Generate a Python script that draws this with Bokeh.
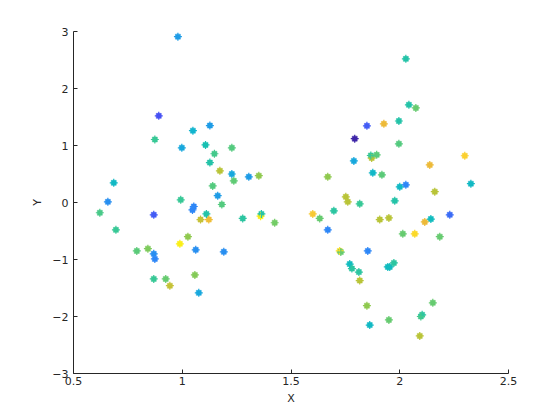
import numpy as np
from bokeh.plotting import figure
from bokeh.models import ColumnDataSource, LinearColorMapper, FixedTicker
from bokeh.embed import file_html
from bokeh.resources import INLINE

# ---- data ----
x_left = [0.98, 0.892, 1.049, 1.127, 0.874, 0.998, 1.107, 1.228, 1.148, 1.127,
          1.173, 1.228, 1.306, 1.352, 1.237, 0.685, 1.14, 1.163, 0.993, 0.658,
          1.182, 1.053, 1.047, 0.621, 0.869, 1.111, 1.36, 1.364, 1.278, 1.084,
          1.122, 0.695, 1.425, 1.026, 0.989, 0.791, 0.842, 1.062, 1.191, 0.869,
          0.874, 0.869, 0.924, 1.058, 0.943, 1.076]
y_left = [2.91, 1.52, 1.26, 1.35, 1.105, 0.96, 1.01, 0.96, 0.855, 0.70,
          0.556, 0.50, 0.45, 0.47, 0.38, 0.345, 0.29, 0.12, 0.047, 0.012,
          -0.035, -0.07, -0.13, -0.18, -0.216, -0.20, -0.24, -0.20, -0.28, -0.30,
          -0.30, -0.48, -0.355, -0.60, -0.725, -0.85, -0.81, -0.83, -0.865, -0.90,
          -0.99, -1.34, -1.34, -1.27, -1.46, -1.585]
c_left = [0.25, 0.10, 0.33, 0.25, 0.50, 0.28, 0.42, 0.55, 0.52, 0.45,
          0.72, 0.28, 0.25, 0.65, 0.57, 0.36, 0.55, 0.25, 0.50, 0.22,
          0.55, 0.20, 0.20, 0.53, 0.12, 0.45, 0.97, 0.45, 0.47, 0.74,
          0.82, 0.50, 0.60, 0.65, 0.97, 0.56, 0.62, 0.22, 0.22, 0.22,
          0.20, 0.50, 0.58, 0.63, 0.74, 0.28]

x_right = [2.028, 2.042, 2.074, 1.996, 1.849, 1.927, 1.793, 1.996, 1.871, 1.867,
           1.894, 1.789, 2.299, 2.138, 1.876, 1.918, 1.669, 2.327, 2.0, 2.028,
           2.161, 1.752, 1.761, 1.816, 1.977, 1.600, 1.697, 1.632, 2.230, 1.908,
           1.95, 2.115, 2.143, 1.669, 2.014, 2.069, 2.184, 1.724, 1.729, 1.853,
           1.770, 1.78, 1.812, 1.816, 1.945, 1.954, 1.973, 1.849, 2.152, 2.103,
           2.097, 1.95, 1.862, 2.092]
y_right = [2.52, 1.714, 1.66, 1.43, 1.345, 1.38, 1.12, 1.03, 0.78, 0.825,
           0.836, 0.73, 0.82, 0.66, 0.52, 0.486, 0.45, 0.33, 0.275, 0.31,
           0.19, 0.10, 0.012, -0.023, 0.03, -0.20, -0.146, -0.28, -0.216, -0.30,
           -0.27, -0.34, -0.29, -0.48, -0.55, -0.55, -0.60, -0.85, -0.87, -0.85,
           -1.08, -1.16, -1.22, -1.37, -1.13, -1.13, -1.06, -1.81, -1.76, -1.97,
           -2.0, -2.06, -2.15, -2.34]
c_right = [0.45, 0.45, 0.58, 0.45, 0.12, 0.80, 0.00, 0.55, 0.72, 0.50,
           0.56, 0.28, 0.90, 0.80, 0.35, 0.56, 0.65, 0.36, 0.36, 0.20,
           0.72, 0.72, 0.72, 0.50, 0.45, 0.87, 0.47, 0.58, 0.15, 0.72,
           0.72, 0.80, 0.38, 0.20, 0.58, 0.92, 0.58, 0.93, 0.58, 0.20,
           0.38, 0.47, 0.47, 0.72, 0.38, 0.38, 0.47, 0.65, 0.58, 0.47,
           0.52, 0.58, 0.36, 0.72]

x_ticks = [0.5, 1, 1.5, 2, 2.5]
y_ticks = [-3, -2, -1, 0, 1, 2, 3]

# ---- parula-like palette ----
anchors_t = [0.0, 0.1, 0.2, 0.3, 0.4, 0.5, 0.6, 0.7, 0.8, 0.9, 1.0]
anchors_rgb = [(0.2422, 0.1504, 0.6603), (0.2810, 0.3228, 0.9579),
               (0.1786, 0.5289, 0.9682), (0.0689, 0.6948, 0.8394),
               (0.0704, 0.7457, 0.7258), (0.2161, 0.7843, 0.5923),
               (0.4500, 0.8000, 0.4000), (0.6700, 0.7800, 0.2200),
               (0.9290, 0.7290, 0.2226), (0.9856, 0.8142, 0.1968),
               (0.9763, 0.9831, 0.0538)]
tt = np.linspace(0, 1, 256)
pal = []
for t in tt:
    r = np.interp(t, anchors_t, [a[0] for a in anchors_rgb])
    g = np.interp(t, anchors_t, [a[1] for a in anchors_rgb])
    b = np.interp(t, anchors_t, [a[2] for a in anchors_rgb])
    pal.append("#%02x%02x%02x" % (int(round(r * 255)), int(round(g * 255)), int(round(b * 255))))

mapper = LinearColorMapper(palette=pal, low=0, high=1)
src = ColumnDataSource(dict(x=x_left + x_right, y=y_left + y_right, c=c_left + c_right))

p = figure(frame_width=435, frame_height=342, x_range=(0.5, 2.5), y_range=(-3, 3),
           output_backend="svg", toolbar_location=None,
           min_border_left=73, min_border_top=31, min_border_right=40, min_border_bottom=30)

col = {"field": "c", "transform": mapper}
p.scatter("x", "y", source=src, marker="square", size=5, fill_color=col, line_color=col, line_width=0.5)
p.scatter("x", "y", source=src, marker="cross", size=8, line_color=col, line_width=1.2)

p.grid.visible = False
p.outline_line_color = None
p.background_fill_color = "white"
p.border_fill_color = "white"

for ax in (p.xaxis[0], p.yaxis[0]):
    ax.axis_line_color = "#262626"
    ax.major_tick_line_color = "#262626"
    ax.major_tick_in = 4
    ax.major_tick_out = 0
    ax.minor_tick_line_color = None
    ax.major_label_text_font = "DejaVu Sans"
    ax.major_label_text_font_size = "11px"
    ax.major_label_text_color = "#262626"
    ax.axis_label_text_font = "DejaVu Sans"
    ax.axis_label_text_font_size = "11px"
    ax.axis_label_text_font_style = "normal"
    ax.axis_label_text_color = "#262626"

p.xaxis.ticker = FixedTicker(ticks=x_ticks)
p.yaxis.ticker = FixedTicker(ticks=y_ticks)
p.xaxis.major_label_standoff = 3
p.yaxis.major_label_standoff = 5
p.xaxis.axis_label = "X"
p.yaxis.axis_label = "Y"
p.xaxis.axis_label_standoff = 4
p.yaxis.axis_label_standoff = 5

open("out.html", "w").write(file_html(p, INLINE))
